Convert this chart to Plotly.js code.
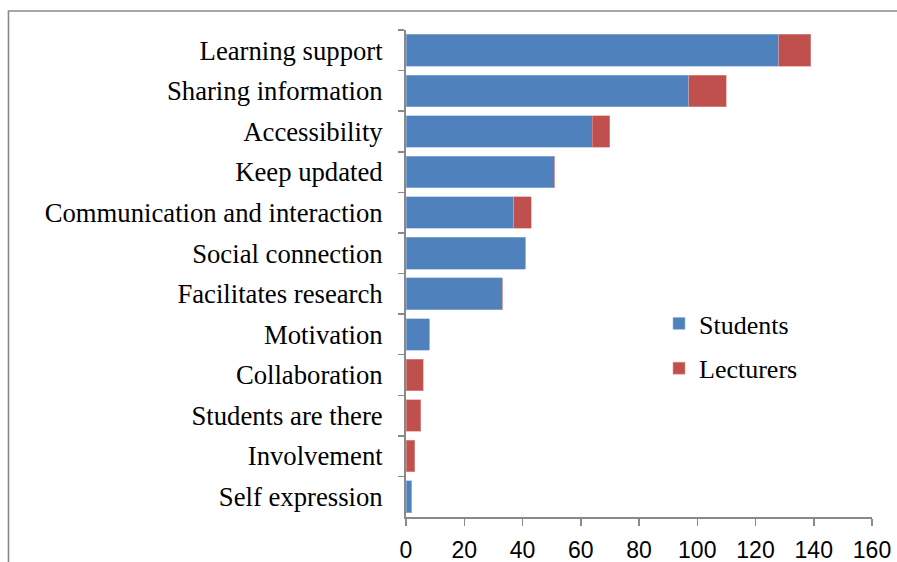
<!DOCTYPE html>
<html>
<head>
<meta charset="utf-8">
<script src="https://cdn.plot.ly/plotly-3.0.1.min.js"></script>
<style>
  html, body { margin: 0; padding: 0; background: #ffffff; }
  #chart { width: 897px; height: 562px; }
  #chart .legendtext { font-family: "Liberation Serif", serif !important; }
</style>
</head>
<body>
<div id="chart"></div>
<script>
const categories = [
  "Learning support",
  "Sharing information",
  "Accessibility",
  "Keep updated",
  "Communication and interaction",
  "Social connection",
  "Facilitates research",
  "Motivation",
  "Collaboration",
  "Students are there",
  "Involvement",
  "Self expression"
];
const students  = [128, 97, 64, 51, 37, 41, 33, 8, 0, 0, 0, 2];
const lecturers = [11, 13, 6, 0, 6, 0, 0, 0, 6, 5, 3, 0];
const seriesNames = ["Students", "Lecturers"];
const xTicks = [0, 20, 40, 60, 80, 100, 120, 140, 160];

const blue = "#4F81BD";
const red = "#C0504D";
const gray = "#898989";
const serif = "Liberation Serif";

const traces = [
  {
    type: "bar", orientation: "h", name: seriesNames[0],
    y: categories, x: students, legendgroup: "s",
    marker: { color: blue, line: { color: "#9db9dc", width: 0.6 } },
    hoverinfo: "x+y"
  },
  {
    type: "bar", orientation: "h", name: seriesNames[1],
    y: categories, x: lecturers, legendgroup: "l",
    marker: { color: red, line: { color: "#e09a98", width: 0.6 } },
    hoverinfo: "x+y"
  }
];

const W = 897, H = 562, L = 406, R = 25, T = 30, B = 45;
const pw = W - L - R, ph = H - T - B;
const px = p => (p - L) / pw;
const py = p => (H - B - p) / ph;

const layout = {
  width: W, height: H,
  margin: { l: L, r: R, t: T, b: B, pad: 0 },
  font: { family: serif, size: 26, color: "#000" },
  paper_bgcolor: "#ffffff",
  plot_bgcolor: "#ffffff",
  barmode: "stack",
  bargap: 0.22,
  showlegend: true,
  legend: {
    x: px(659), y: py(300), xanchor: "left", yanchor: "top",
    traceorder: "grouped", tracegroupgap: 8,
    font: { family: serif, size: 26, color: "#000" },
    bgcolor: "rgba(0,0,0,0)"
  },
  xaxis: {
    range: [0, 160],
    tickvals: xTicks,
    ticktext: xTicks.map(String),
    ticks: "outside", ticklen: 7, tickwidth: 1.5, tickcolor: gray,
    showline: true, linecolor: gray, linewidth: 2,
    showgrid: false, zeroline: false,
    ticklabelstandoff: 4,
    tickfont: { family: "Liberation Sans", size: 23, color: "#000" },
    fixedrange: true
  },
  yaxis: {
    type: "category",
    categoryorder: "array", categoryarray: categories,
    autorange: "reversed",
    ticks: "outside", tickson: "boundaries", ticklen: 6, tickwidth: 1.5, tickcolor: gray,
    showline: true, linecolor: gray, linewidth: 2,
    showgrid: false, zeroline: false,
    ticklabelstandoff: 16,
    tickfont: { family: serif, size: 26.7, color: "#000" },
    fixedrange: true
  },
  shapes: [
    {
      type: "path", xref: "paper", yref: "paper",
      path: "M " + px(8.5) + " " + py(570) + " L " + px(8.5) + " " + py(11) + " L " + px(905) + " " + py(11),
      line: { color: gray, width: 1.6 }
    }
  ]
};

Plotly.newPlot("chart", traces, layout, { displayModeBar: false, staticPlot: true });
</script>
</body>
</html>
